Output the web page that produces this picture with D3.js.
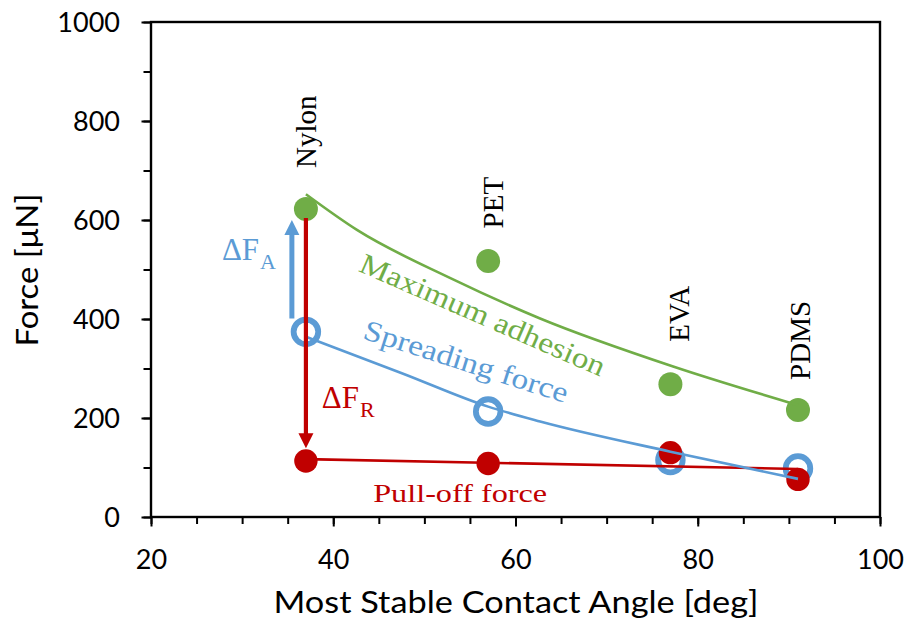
<!DOCTYPE html>
<html><head><meta charset="utf-8">
<script src="https://cdn.jsdelivr.net/npm/d3@7"></script>
<style>body{margin:0;background:#fff}</style>
</head><body>
<svg id="chart" width="906" height="628"></svg>
<script>
// ---- data ----
const materials = ["Nylon", "PET", "EVA", "PDMS"];
const contactAngle = [37, 57, 77, 91];
const maxAdhesion = [622, 517, 268, 216];
const spreadingForce = [374, 213, 115, 98];
const pullOffForce = [113, 108, 130, 76];

// trend curves
const maxAdhesionFitX = [37, 42.6, 52.8, 62.7, 77.3, 91];
const maxAdhesionFitY = [652, 580, 483, 401, 304, 226];
const spreadingFitX = [37, 47.6, 57, 62.7, 77, 91];
const spreadingFitY = [364, 290, 223, 193, 132, 77];
const pullOffFitX = [37, 91];
const pullOffFitY = [117, 97];

const xTickValues = [20, 40, 60, 80, 100];
const xTickLabels = ["20", "40", "60", "80", "100"];
const xMinorTicks = d3.range(20, 100.1, 5);
const yTickValues = [0, 200, 400, 600, 800, 1000];
const yTickLabels = ["0", "200", "400", "600", "800", "1000"];
const yMinorTicks = d3.range(0, 1000.1, 100);

// annotations (data units)
const materialLabelX = [38.1, 58.6, 79.0, 92.3];
const materialLabelY = [705, 583, 354, 277];

const GREEN = "#70AD47", BLUE = "#5B9BD5", RED = "#C00000";

const svg = d3.select("#chart");
const x = d3.scaleLinear().domain([20, 100]).range([151, 880]);
const y = d3.scaleLinear().domain([0, 1000]).range([517, 22]);

// ---- axes ----
const xMinorAxis = d3.axisBottom(x).tickValues(xMinorTicks).tickSize(7).tickFormat("");
const xAxis = d3.axisBottom(x).tickValues(xTickValues).tickSize(9.5)
  .tickFormat((d, i) => xTickLabels[i]);
const yMinorAxis = d3.axisLeft(y).tickValues(yMinorTicks).tickSize(7.5).tickFormat("");
const yAxis = d3.axisLeft(y).tickValues(yTickValues).tickSize(9.5)
  .tickFormat((d, i) => yTickLabels[i]);

function styleAxis(g) {
  g.select(".domain").remove();
  g.selectAll("line").attr("stroke", "#000").attr("stroke-width", 2);
  g.selectAll("text").attr("font-family", "Lato, 'Open Sans', sans-serif")
    .attr("font-size", 27).attr("fill", "#000");
}
svg.append("g").attr("transform", "translate(0,517)").call(xMinorAxis).call(styleAxis);
const gx = svg.append("g").attr("transform", "translate(0,517)").call(xAxis).call(styleAxis);
gx.selectAll("text").attr("y", 51.5).attr("dy", null);
svg.append("g").attr("transform", "translate(151,0)").call(yMinorAxis).call(styleAxis);
const gy = svg.append("g").attr("transform", "translate(151,0)").call(yAxis).call(styleAxis);
gy.selectAll("text").attr("x", -31).attr("dy", "0.36em");

// frame
svg.append("rect").attr("x", x(20)).attr("y", y(1000))
  .attr("width", x(100) - x(20)).attr("height", y(0) - y(1000))
  .attr("fill", "none").attr("stroke", "#000").attr("stroke-width", 2.4);

// titles
svg.append("text").attr("x", 516).attr("y", 613)
  .attr("text-anchor", "middle").attr("font-family", "Lato, sans-serif")
  .attr("font-size", 31.5).attr("fill", "#000")
  .attr("textLength", 485).attr("lengthAdjust", "spacingAndGlyphs")
  .text("Most Stable Contact Angle [deg]");
svg.append("text").attr("transform", "translate(38,270) rotate(-90)")
  .attr("text-anchor", "middle").attr("font-family", "Lato, sans-serif")
  .attr("font-size", 31).attr("fill", "#000")
  .attr("textLength", 153).attr("lengthAdjust", "spacingAndGlyphs")
  .text("Force [μN]");

// ---- markers ----
const pts = contactAngle.map((a, i) => ({a, g: maxAdhesion[i], b: spreadingForce[i], r: pullOffForce[i]}));
svg.append("g").selectAll("circle").data(pts).join("circle")
  .attr("cx", d => x(d.a)).attr("cy", d => y(d.g)).attr("r", 12).attr("fill", GREEN);
svg.append("g").selectAll("circle").data(pts).join("circle")
  .attr("cx", d => x(d.a)).attr("cy", d => y(d.b)).attr("r", 12.3)
  .attr("fill", "none").attr("stroke", BLUE).attr("stroke-width", 5.8);
svg.append("g").selectAll("circle").data(pts).join("circle")
  .attr("cx", d => x(d.a)).attr("cy", d => y(d.r)).attr("r", 11.7).attr("fill", RED);

// ---- trend lines ----
const line = d3.line().x(d => x(d[0])).y(d => y(d[1])).curve(d3.curveMonotoneX);
const zip = (a, b) => a.map((v, i) => [v, b[i]]);
svg.append("path").attr("d", line(zip(pullOffFitX, pullOffFitY)))
  .attr("fill", "none").attr("stroke", RED).attr("stroke-width", 2.6);
svg.append("path").attr("d", line(zip(spreadingFitX, spreadingFitY)))
  .attr("fill", "none").attr("stroke", BLUE).attr("stroke-width", 2.6);
svg.append("path").attr("d", line(zip(maxAdhesionFitX, maxAdhesionFitY)))
  .attr("fill", "none").attr("stroke", GREEN).attr("stroke-width", 2.6);

// ---- arrows ----
function arrow(x0, y0, y1, color, w) {
  const px = x(x0), py0 = y(y0), py1 = y(y1);
  const dir = Math.sign(py1 - py0), head = 15, hw = 7.5;
  svg.append("line").attr("x1", px).attr("x2", px).attr("y1", py0).attr("y2", py1 - dir * head + dir)
    .attr("stroke", color).attr("stroke-width", w);
  svg.append("path").attr("d", `M${px - hw},${py1 - dir * head}L${px + hw},${py1 - dir * head}L${px},${py1}Z`)
    .attr("fill", color);
}
arrow(35.46, 401, 600, BLUE, 5);
arrow(37, 604, 139, RED, 4.2);

// ---- material labels ----
const serif = "'Liberation Serif', 'Times New Roman', serif";
svg.append("g").selectAll("text").data(materials).join("text")
  .attr("transform", (d, i) => `translate(${x(materialLabelX[i])},${y(materialLabelY[i])}) rotate(-90)`)
  .attr("font-family", serif).attr("font-size", 29).attr("fill", "#000")
  .text(d => d);

// ---- series annotations ----
function rotText(xd, yd, angle, str, color, size, len) {
  svg.append("text")
    .attr("transform", `translate(${x(xd)},${y(yd)}) rotate(${angle})`)
    .attr("font-family", serif).attr("font-size", size).attr("fill", color)
    .attr("textLength", len).attr("lengthAdjust", "spacingAndGlyphs")
    .text(str);
}
rotText(42.65, 497.6, 23.6, "Maximum adhesion", GREEN, 29, 265);
rotText(43.14, 361, 17.7, "Spreading force", BLUE, 29, 213);
rotText(44.38, 31, 0, "Pull-off force", RED, 26, 174);

function deltaLabel(xd, yd, sub, color) {
  const t = svg.append("text").attr("x", x(xd)).attr("y", y(yd))
    .attr("font-family", serif).attr("font-size", 31).attr("fill", color);
  t.append("tspan").text("ΔF");
  t.append("tspan").attr("font-size", 22).attr("dy", 9).attr("dx", 1).text(sub);
}
deltaLabel(27.78, 519, "A", BLUE);
deltaLabel(38.75, 219.6, "R", RED);
</script>
</body></html>
